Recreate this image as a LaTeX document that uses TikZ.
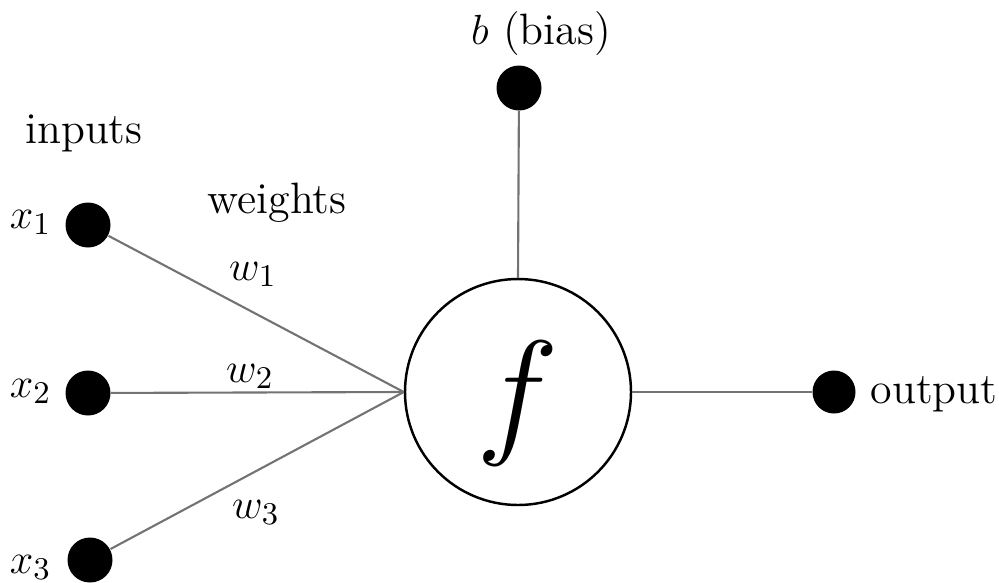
\documentclass[tikz,border=0pt]{standalone}
\usepackage{amsmath}
\usepackage{graphicx}
\usetikzlibrary{calc}

\begin{document}
\begin{tikzpicture}[x=1cm, y=1cm, font=\fontsize{12.5}{15}\selectfont,
    dot/.style={circle, fill=black, inner sep=0pt, minimum size=4.5mm},
    wire/.style={draw=black!55, line width=0.6pt},
    lbl/.style={inner sep=0pt}]
  % canvas 999 x 582 px -> 9.99 x 5.82
  \useasboundingbox (0,0) rectangle (9.99,5.82);

  % Neuron body
  \node[circle, draw, line width=0.7pt, minimum size=2.26cm, inner sep=0pt] (neuron) at (5.18,1.90) {};
  \node[lbl] (fsym) at ($(neuron.center)+(0,-0.12)$) {\scalebox{1.6}{\Huge$f$}};

  % Inputs
  \node[dot] (x1) at (0.88,3.57) {};
  \node[dot] (x2) at (0.88,1.89) {};
  \node[dot] (x3) at (0.90,0.22) {};
  \node[lbl, anchor=base east] (lx1) at (0.52,3.54) {$x_1$};
  \node[lbl, anchor=base east] (lx2) at (0.52,1.85) {$x_2$};
  \node[lbl, anchor=base east] (lx3) at (0.52,0.09) {$x_3$};
  \node[lbl, anchor=base] (inputs) at (0.84,4.39) {inputs};

  % Bias and output
  \node[dot] (bias) at (5.19,4.94) {};
  \node[lbl, anchor=base] (lbias) at (5.41,5.38) {$b$ (bias)};
  \node[dot, minimum size=4.3mm] (out) at (8.34,1.90) {};
  \node[lbl, anchor=base west] (lout) at (8.70,1.79) {output};

  % Connections
  \draw[wire] (x1) -- (neuron.west);
  \draw[wire] (x2) -- (neuron.west);
  \draw[wire] (x3) -- (neuron.west);
  \draw[wire] (bias) -- (neuron.north);
  \draw[wire] (neuron.east) -- (out);

  % Weights
  \node[lbl, anchor=base] (weights) at (2.77,3.69) {weights};
  \node[lbl, anchor=base] (w1) at (2.53,3.02) {$w_1$};
  \node[lbl, anchor=base] (w2) at (2.50,2.00) {$w_2$};
  \node[lbl, anchor=base] (w3) at (2.56,0.64) {$w_3$};
\end{tikzpicture}
\end{document}
